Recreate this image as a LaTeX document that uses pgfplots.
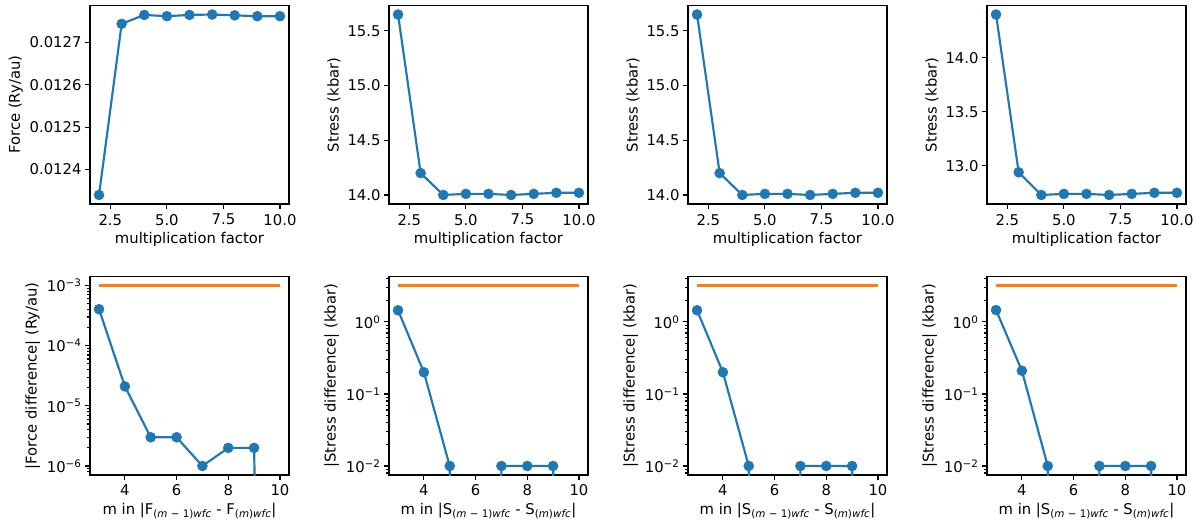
\documentclass[border=0pt]{standalone}
\usepackage{fontspec}
\setmainfont{DejaVu Sans}
\usepackage{pgfplots}
\pgfplotsset{compat=1.18}

\definecolor{tabblue}{HTML}{1F77B4}
\definecolor{taborange}{HTML}{FF7F0E}

\newcommand{\panelfont}{\fontsize{14.8bp}{17bp}\selectfont}
\newcommand{\logtick}{10\textsuperscript{\pgfmathparse{int(round(\tick))}\ifnum\pgfmathresult<0 −\number-\pgfmathresult\else\pgfmathresult\fi}}

\pgfplotsset{
  panel/.style={
    scale only axis, width=199bp, height=198.5bp,
    axis line style={line width=1.15bp},
    every tick/.style={black, line width=1.15bp},
    major tick length=5bp, minor tick length=2.9bp,
    tick align=outside, tick pos=left,
    tick label style={font=\panelfont},
    xticklabel style={yshift=-1.5bp},
    label style={font=\panelfont},
    /pgf/number format/assume math mode=true,
  },
  toprow/.style={
    panel, xmin=1.6, xmax=10.4, xtick={2.5,5,7.5,10},
    xticklabel style={/pgf/number format/.cd, fixed, fixed zerofill, precision=1},
    scaled y ticks=false,
    xlabel={multiplication factor},
  },
  botrow/.style={
    panel, xmin=2.65, xmax=10.35, xtick={4,6,8,10},
  },
  series/.style={tabblue, line width=2.15bp, mark=*, mark size=5bp,
    mark options={fill=tabblue, draw=tabblue, line width=0.5bp}},
  limit/.style={taborange, line width=2.15bp, no marks},
}

% absolute values, one column per case
\pgfplotstableread{
m   force     stressA  stressB  stressC
2   0.012340  15.65    15.65    14.40
3   0.012744  14.20    14.20    12.94
4   0.012765  14.00    14.00    12.73
5   0.012762  14.01    14.01    12.74
6   0.012765  14.01    14.01    12.74
7   0.012766  14.00    14.00    12.73
8   0.012764  14.01    14.01    12.74
9   0.012762  14.02    14.02    12.75
10  0.012762  14.02    14.02    12.75
}\absvalues

% differences between consecutive multiplication factors
\pgfplotstableread{
m   force    stressA  stressB  stressC
3   4.04e-4  1.45     1.45     1.46
4   2.1e-5   0.20     0.20     0.21
5   3e-6     0.01     0.01     0.01
6   3e-6     0        0        0
7   1e-6     0.01     0.01     0.01
8   2e-6     0.01     0.01     0.01
9   2e-6     0.01     0.01     0.01
10  0        0        0        0
}\diffvalues

\begin{document}
\begin{tikzpicture}
\path[use as bounding box] (0bp,0bp) rectangle (1203bp,529bp);

% ---- top row: values against multiplication factor ----
\begin{axis}[toprow, at={(90bp,325bp)}, anchor=south west,
  ymin=0.0123187, ymax=0.0127873, ytick={0.0124,0.0125,0.0126,0.0127},
  yticklabel style={/pgf/number format/.cd, fixed, fixed zerofill, precision=4},
  ylabel={Force (Ry/au)}]
\addplot[series] table[x=m, y=force] {\absvalues};
\end{axis}

\begin{axis}[toprow, at={(389bp,325bp)}, anchor=south west,
  ymin=13.9175, ymax=15.7325, ytick={14,14.5,15,15.5},
  yticklabel style={/pgf/number format/.cd, fixed, fixed zerofill, precision=1},
  ylabel={Stress (kbar)}]
\addplot[series] table[x=m, y=stressA] {\absvalues};
\end{axis}

\begin{axis}[toprow, at={(688bp,325bp)}, anchor=south west,
  ymin=13.9175, ymax=15.7325, ytick={14,14.5,15,15.5},
  yticklabel style={/pgf/number format/.cd, fixed, fixed zerofill, precision=1},
  ylabel={Stress (kbar)}]
\addplot[series] table[x=m, y=stressB] {\absvalues};
\end{axis}

\begin{axis}[toprow, at={(987bp,325bp)}, anchor=south west,
  ymin=12.6465, ymax=14.4835, ytick={13,13.5,14},
  yticklabel style={/pgf/number format/.cd, fixed, fixed zerofill, precision=1},
  ylabel={Stress (kbar)}]
\addplot[series] table[x=m, y=stressC] {\absvalues};
\end{axis}

% ---- bottom row: differences with the tolerance line ----
% the filter takes log10 of each value; a zero difference is sent far below
% the axis, so the line drops out of view there
\begin{axis}[ymode=log, log basis y=10, botrow, at={(90bp,54bp)}, anchor=south west,
  y filter/.expression={y <= 0 ? -30 : log10(y)}, yticklabel={\logtick},
  ymin=7.08e-7, ymax=1.413e-3,
  ylabel={|Force difference| (Ry/au)},
  xlabel={m in |F\textsubscript{(\textit{m} − 1)\textit{wfc}} - F\textsubscript{(\textit{m})\textit{wfc}}|}]
\addplot[series] table[x=m, y=force] {\diffvalues};
\addplot[limit] coordinates {(3,1e-3) (10,1e-3)};
\end{axis}

\begin{axis}[ymode=log, log basis y=10, botrow, at={(389bp,54bp)}, anchor=south west,
  y filter/.expression={y <= 0 ? -30 : log10(y)}, yticklabel={\logtick},
  ymin=7.5e-3, ymax=4.27,
  ylabel={|Stress difference| (kbar)},
  xlabel={m in |S\textsubscript{(\textit{m} − 1)\textit{wfc}} - S\textsubscript{(\textit{m})\textit{wfc}}|}]
\addplot[series] table[x=m, y=stressA] {\diffvalues};
\addplot[limit] coordinates {(3,3.2) (10,3.2)};
\end{axis}

\begin{axis}[ymode=log, log basis y=10, botrow, at={(688bp,54bp)}, anchor=south west,
  y filter/.expression={y <= 0 ? -30 : log10(y)}, yticklabel={\logtick},
  ymin=7.5e-3, ymax=4.27,
  ylabel={|Stress difference| (kbar)},
  xlabel={m in |S\textsubscript{(\textit{m} − 1)\textit{wfc}} - S\textsubscript{(\textit{m})\textit{wfc}}|}]
\addplot[series] table[x=m, y=stressB] {\diffvalues};
\addplot[limit] coordinates {(3,3.2) (10,3.2)};
\end{axis}

\begin{axis}[ymode=log, log basis y=10, botrow, at={(987bp,54bp)}, anchor=south west,
  y filter/.expression={y <= 0 ? -30 : log10(y)}, yticklabel={\logtick},
  ymin=7.5e-3, ymax=4.27,
  ylabel={|Stress difference| (kbar)},
  xlabel={m in |S\textsubscript{(\textit{m} − 1)\textit{wfc}} - S\textsubscript{(\textit{m})\textit{wfc}}|}]
\addplot[series] table[x=m, y=stressC] {\diffvalues};
\addplot[limit] coordinates {(3,3.2) (10,3.2)};
\end{axis}
\end{tikzpicture}
\end{document}
